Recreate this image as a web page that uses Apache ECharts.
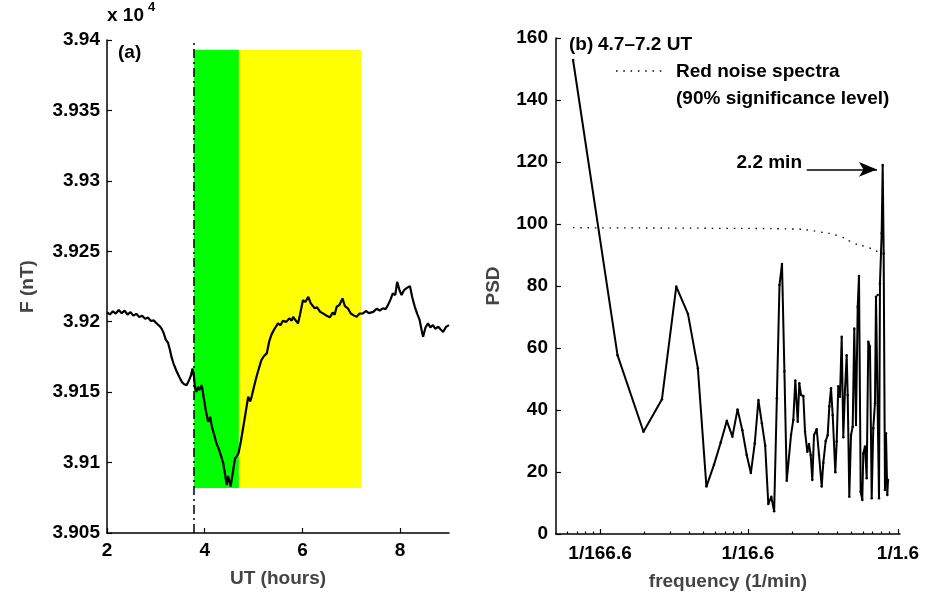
<!DOCTYPE html>
<html><head><meta charset="utf-8">
<script src="https://cdn.jsdelivr.net/npm/echarts@6/dist/echarts.min.js"></script>
<style>html,body{margin:0;padding:0;background:#fff}#chart{width:934px;height:596px}</style>
</head><body><div id="chart"></div>
<script>
// ---------- Panel (a): total field F ----------
const utHours = [2.00,2.06,2.12,2.18,2.24,2.30,2.36,2.42,2.48,2.54,2.60,2.66,2.72,2.78,2.84,2.90,2.96,3.02,3.08,3.12,3.16,3.20,3.25,3.29,3.32,3.36,3.42,3.48,3.53,3.58,3.63,3.68,3.72,3.75,3.78,3.80,3.83,3.86,3.89,3.94,3.98,4.02,4.07,4.11,4.15,4.20,4.24,4.29,4.34,4.38,4.42,4.45,4.48,4.50,4.53,4.55,4.58,4.62,4.66,4.69,4.74,4.79,4.84,4.89,4.93,4.96,5.01,5.06,5.11,5.16,5.21,5.27,5.32,5.37,5.43,5.50,5.55,5.60,5.67,5.73,5.78,5.81,5.86,5.91,5.95,6.01,6.06,6.12,6.17,6.21,6.25,6.30,6.36,6.42,6.48,6.56,6.62,6.66,6.70,6.76,6.82,6.87,6.93,6.99,7.05,7.11,7.17,7.24,7.30,7.36,7.45,7.52,7.58,7.65,7.70,7.75,7.80,7.85,7.90,7.94,7.99,8.03,8.08,8.14,8.20,8.25,8.30,8.35,8.40,8.44,8.47,8.52,8.57,8.62,8.67,8.72,8.78,8.83,8.88,8.94,9.00];
const fieldNT = [39206.6,39205.2,39207.4,39205.8,39208.3,39206.0,39207.9,39205.1,39206.8,39204.3,39205.6,39203.4,39204.2,39202.1,39202.9,39200.5,39200.9,39198.6,39196.8,39194.9,39192.0,39187.5,39184.9,39179.8,39175.0,39170.4,39165.2,39160.8,39157.3,39155.6,39155.0,39158.5,39162.0,39166.8,39161.0,39153.0,39150.2,39153.8,39151.5,39155.0,39146.0,39137.5,39128.9,39132.5,39125.0,39119.0,39113.6,39109.5,39104.0,39099.4,39091.0,39084.0,39090.5,39089.9,39083.0,39082.8,39094.0,39102.9,39104.8,39106.5,39115.0,39125.4,39136.0,39146.7,39143.5,39146.7,39154.0,39160.9,39167.0,39172.7,39175.5,39177.5,39186.0,39191.2,39195.0,39198.8,39197.5,39200.6,39199.9,39202.4,39200.8,39203.5,39201.0,39198.8,39205.0,39215.3,39214.0,39217.7,39213.0,39211.4,39209.5,39210.2,39207.1,39205.9,39204.6,39203.1,39206.5,39205.0,39210.6,39212.0,39216.6,39211.0,39209.5,39205.8,39204.5,39203.5,39205.8,39205.9,39207.6,39206.1,39207.0,39209.2,39208.0,39209.5,39208.8,39211.8,39215.5,39220.1,39219.0,39228.3,39222.0,39218.9,39222.5,39224.0,39225.3,39217.0,39210.6,39205.5,39201.1,39194.0,39189.3,39196.0,39198.8,39196.0,39197.6,39195.0,39196.4,39194.5,39192.8,39196.3,39197.6];
const hourTickValues = [2, 4, 6, 8];
const onsetUT = 3.78;
const greenWindowUT = [3.78, 4.70];
const yellowWindowUT = [4.70, 7.20];
const windowFieldNT = [39082, 39393];

// ---------- Panel (b): power spectral density ----------
const psdFrequency = [0.00394,0.00788,0.01182,0.01576,0.0197,0.02364,0.02758,0.03152,0.03546,0.0394,0.04334,0.04728,0.05122,0.05516,0.0591,0.06304,0.06698,0.07092,0.07486,0.0788,0.08274,0.08668,0.09062,0.09456,0.0985,0.10244,0.10638,0.11032,0.11788,0.12218,0.12608,0.13089,0.13420,0.13782,0.14283,0.14669,0.15201,0.15606,0.16028,0.16434,0.16875,0.17600,0.18242,0.19026,0.19507,0.20248,0.20890,0.21422,0.21997,0.22584,0.23518,0.24038,0.24645,0.25307,0.25984,0.26646,0.27359,0.28092,0.28537,0.29255,0.30039,0.30842,0.31622,0.32470,0.33348,0.34030,0.34944,0.35826,0.36394,0.37367,0.38368,0.39337,0.40385,0.41488,0.42513,0.43655,0.44364,0.45546,0.46492,0.47201,0.48462,0.49250,0.49999,0.51023,0.51850,0.52914,0.53505];
const psdValue = [152.9,57.7,33.0,43.5,79.8,71.0,53.5,15.3,22.3,29.5,36.5,31.4,40.2,33.5,25.5,19.7,29.2,43.2,35.7,28.5,9.7,12.0,7.3,43.8,80.3,87.1,52.4,17.2,31.9,36.8,49.5,36.2,48.6,44.8,44.5,33.0,26.5,29.0,25.5,17.4,31.9,33.8,25.5,15.3,23.0,30.0,31.9,41.1,47.0,38.4,19.9,29.8,47.7,44.3,63.6,31.2,46.5,57.7,44.8,12.0,31.9,34.6,66.3,35.2,73.3,83.2,13.6,11.0,26.0,28.2,18.0,62.0,60.4,11.5,34.1,42.2,76.5,77.1,11.5,80.9,97.0,119.0,90.5,14.2,32.5,12.6,17.4];
const redNoiseFrequency = [0.00394,0.0394,0.1182,0.1773,0.2561,0.3152,0.394,0.4531];
const redNoiseValue = [98.8,98.6,98.4,97.6,95.9,93.8,92.4,91.1];
const freqTickValues = [1/166.6, 1/16.6, 1/1.6];
const freqTickLabels = ['1/166.6', '1/16.6', '1/1.6'];
const freqMinorTickValues = [0.003601,0.004202,0.004802,0.005402,0.012005,0.018007,0.02401,0.030012,0.036014,0.042017,0.048019,0.054022,0.12048,0.18072,0.24096,0.30120,0.36145,0.42169,0.48193,0.54217];
const peakArrowFrom = [0.1506, 117.6];
const peakArrowTo = [0.4504, 117.6];
const peakLabel = '2.2 min';

const FONT = "'Liberation Sans', Arial, Helvetica, sans-serif";
const tickLabel = { color: '#000', fontFamily: FONT, fontWeight: 'bold', fontSize: 19 };
const nameStyle = { color: '#444', fontFamily: FONT, fontWeight: 'bold', fontSize: 19 };
const axisLine = { show: true, lineStyle: { color: '#000', width: 1.5 } };

const chart = echarts.init(document.getElementById('chart'), null, { renderer: 'canvas' });
chart.setOption({
  backgroundColor: '#fff',
  animation: false,
  grid: [
    { left: 107, top: 40, width: 342, height: 493 },
    { left: 556, top: 38, width: 344, height: 496 }
  ],
  xAxis: [
    { gridIndex: 0, type: 'value', min: 2, max: 9, interval: 2, position: 'bottom',
      name: 'UT (hours)', nameLocation: 'middle', nameGap: 36, nameTextStyle: nameStyle,
      axisLine,
      axisTick: { inside: true, length: 5, customValues: hourTickValues, lineStyle: { color: '#000', width: 1.2 } },
      axisLabel: Object.assign({ margin: 8, customValues: hourTickValues }, tickLabel), splitLine: { show: false } },
    { gridIndex: 1, type: 'log', logBase: 10, min: 0.00302, max: 0.645, position: 'bottom',
      name: 'frequency (1/min)', nameLocation: 'middle', nameGap: 38, nameTextStyle: nameStyle,
      axisLine,
      axisTick: { inside: true, length: 5, customValues: freqTickValues, lineStyle: { color: '#000', width: 1.2 } },
      axisLabel: Object.assign({ margin: 10, customValues: freqTickValues,
        formatter: v => { const i = freqTickValues.findIndex(t => Math.abs(t - v) / t < 1e-3); return i >= 0 ? freqTickLabels[i] : ''; } }, tickLabel),
      splitLine: { show: false }, minorTick: { show: false } },
    { gridIndex: 1, type: 'log', logBase: 10, min: 0.00302, max: 0.645, position: 'bottom', offset: 0,
      axisLine: { show: false },
      axisTick: { inside: true, length: 2.5, customValues: freqMinorTickValues, lineStyle: { color: '#000', width: 1.2 } },
      axisLabel: { show: false }, splitLine: { show: false } }
  ],
  yAxis: [
    { gridIndex: 0, type: 'value', min: 39050, max: 39400, interval: 50,
      name: 'F (nT)', nameLocation: 'middle', nameGap: 70, nameTextStyle: nameStyle,
      axisLine, axisTick: { inside: true, length: 5, lineStyle: { color: '#000', width: 1.2 } },
      axisLabel: Object.assign({ margin: 7, formatter: v => String(parseFloat((v / 10000).toFixed(4))) }, tickLabel),
      splitLine: { show: false } },
    { gridIndex: 1, type: 'value', min: 0, max: 160, interval: 20,
      name: 'PSD', nameLocation: 'middle', nameGap: 53, nameTextStyle: nameStyle,
      axisLine, axisTick: { inside: true, length: 5, lineStyle: { color: '#000', width: 1.2 } },
      axisLabel: Object.assign({ margin: 8 }, tickLabel), splitLine: { show: false } }
  ],
  series: [
    { type: 'line', xAxisIndex: 0, yAxisIndex: 0, data: utHours.map((t, i) => [t, fieldNT[i]]),
      showSymbol: false, lineStyle: { color: '#000', width: 2.2 }, z: 5,
      markArea: { silent: true, data: [
        [{ xAxis: greenWindowUT[0], yAxis: windowFieldNT[1], itemStyle: { color: '#00ff00', opacity: 1 } }, { xAxis: greenWindowUT[1], yAxis: windowFieldNT[0] }],
        [{ xAxis: yellowWindowUT[0], yAxis: windowFieldNT[1], itemStyle: { color: '#ffff00', opacity: 1 } }, { xAxis: yellowWindowUT[1], yAxis: windowFieldNT[0] }]
      ] },
      markLine: { silent: true, symbol: 'none', label: { show: false },
        lineStyle: { color: '#000', width: 1.5, type: [9, 4, 2, 4] },
        data: [{ xAxis: onsetUT }] } },
    { type: 'line', xAxisIndex: 1, yAxisIndex: 1, data: psdFrequency.map((f, i) => [f, psdValue[i]]),
      showSymbol: true, symbol: 'circle', symbolSize: 2.5, itemStyle: { color: '#000' },
      lineStyle: { color: '#000', width: 2 }, z: 5,
      markLine: { silent: true, symbol: ['none', 'arrow'], symbolSize: [11, 18], label: { show: false },
        lineStyle: { color: '#000', width: 1.5, type: 'solid' },
        data: [[{ coord: peakArrowFrom }, { coord: peakArrowTo }]] } },
    { type: 'line', xAxisIndex: 1, yAxisIndex: 1, data: redNoiseFrequency.map((f, i) => [f, redNoiseValue[i]]),
      showSymbol: false, smooth: true, lineStyle: { color: '#000', width: 1.3, type: [1.5, 5.8] }, z: 4 }
  ],
  graphic: [
    { type: 'text', x: 107, y: 16, style: { text: 'x 10', font: `bold 19px ${FONT}`, fill: '#000', textVerticalAlign: 'middle' } },
    { type: 'text', x: 148, y: 7, style: { text: '4', font: `bold 13px ${FONT}`, fill: '#000', textVerticalAlign: 'middle' } },
    { type: 'text', x: 118, y: 53, style: { text: '(a)', font: `bold 19px ${FONT}`, fill: '#000', textVerticalAlign: 'middle' } },
    { type: 'text', x: 569, y: 45, style: { text: '(b)', font: `bold 19px ${FONT}`, fill: '#000', textVerticalAlign: 'middle' } },
    { type: 'text', x: 598, y: 45, style: { text: '4.7\u20137.2 UT', font: `bold 19px ${FONT}`, fill: '#000', textVerticalAlign: 'middle' } },
    { type: 'line', shape: { x1: 616, y1: 71, x2: 663, y2: 71 }, style: { stroke: '#000', lineWidth: 1.3, lineDash: [1.5, 5.8] } },
    { type: 'text', x: 676, y: 72, style: { text: 'Red noise spectra', font: `bold 19px ${FONT}`, fill: '#000', textVerticalAlign: 'middle' } },
    { type: 'text', x: 676, y: 99, style: { text: '(90% significance level)', font: `bold 19px ${FONT}`, fill: '#000', textVerticalAlign: 'middle' } },
    { type: 'text', x: 802, y: 163, style: { text: peakLabel, font: `bold 19px ${FONT}`, fill: '#000', textAlign: 'right', textVerticalAlign: 'middle' } }
  ]
});
</script>
</body></html>
